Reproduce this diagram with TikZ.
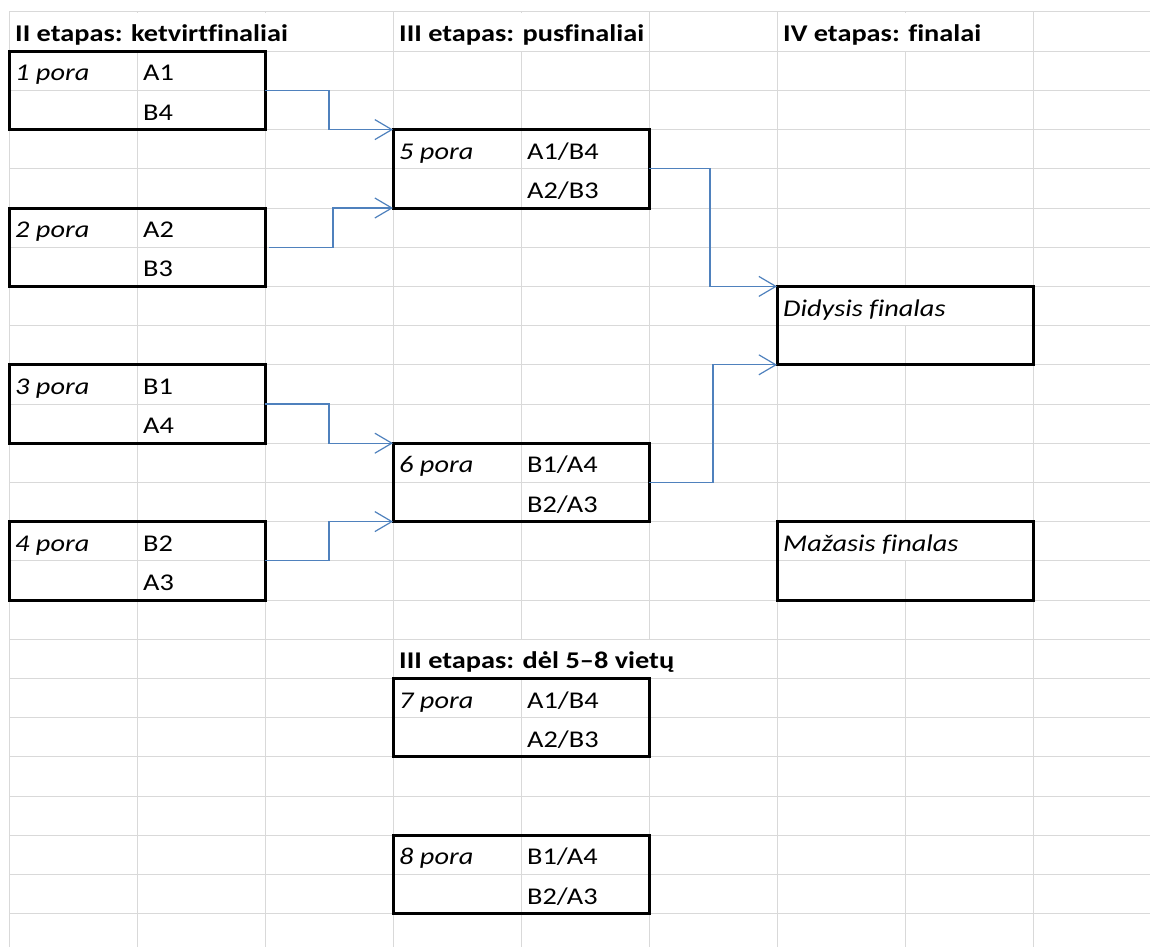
\documentclass[tikz,border=0pt]{standalone}
\usepackage{fontspec}
\setmainfont{Carlito}[FakeStretch=1.18,Ligatures=NoCommon]
\usepackage{tikz}
\usetikzlibrary{arrows.meta}
\definecolor{gridgrey}{RGB}{217,217,217}
\definecolor{connblue}{RGB}{79,129,189}
\newcommand{\cellfont}{\fontsize{24}{28}\selectfont}

\begin{document}
\begin{tikzpicture}[x=1pt,y=-1pt,
  cell/.style={anchor=base west,inner sep=0pt,font=\cellfont},
  pora/.style={cell,font=\cellfont\itshape},
  head/.style={cell,font=\cellfont\bfseries},
  pairbox/.style={draw,line width=3pt,minimum width=256pt,minimum height=78.4pt,
    anchor=north west,outer sep=0pt,inner sep=0pt},
  cover/.style={fill=white},
  conn/.style={draw=connblue,line width=1.2pt,
    -{Straight Barb[length=17pt,width=20pt,line width=1.2pt]}}]
\useasboundingbox (0,0) rectangle (1150,947);
\clip (0,0) rectangle (1150,947);
% spreadsheet grid
\foreach \i in {0,...,8}
  \draw[gridgrey,line width=1pt] ({9+128*\i},12) -- ({9+128*\i},947);
\foreach \j in {0,...,23}
  \draw[gridgrey,line width=1pt] (9,{12+39.2*\j}) -- (1150,{12+39.2*\j});
% overflowing text hides the grid lines
\fill[cover] (10,12.6) rectangle (392,50.6);
\fill[cover] (394,12.6) rectangle (648,50.6);
\fill[cover] (778,12.6) rectangle (1032,50.6);
\fill[cover] (778,287) rectangle (1032,325);
\fill[cover] (778,522.2) rectangle (1032,560.2);
\fill[cover] (394,639.8) rectangle (776,677.8);
% boxes
\node[pairbox] (p1) at (9,51.2) {};
\node[pairbox] (p2) at (9,208) {};
\node[pairbox] (p3) at (9,364.8) {};
\node[pairbox] (p4) at (9,521.6) {};
\node[pairbox] (p5) at (393,129.6) {};
\node[pairbox] (p6) at (393,443.2) {};
\node[pairbox] (fin) at (777,286.4) {};
\node[pairbox] (mfin) at (777,521.6) {};
\node[pairbox] (p7) at (393,678.4) {};
\node[pairbox] (p8) at (393,835.2) {};
% headings
\node[head] (h1) at (15,41.7) {II etapas: ketvirtfinaliai};
\node[head] (h2) at (399,41.7) {III etapas: pusfinaliai};
\node[head] (h3) at (783,41.7) {IV etapas: finalai};
\node[head] (h4) at (399,668.9) {III etapas: dėl 5–8 vietų};
% pairs
\node[pora] (p1-t) at (15,80.9) {1 pora};
\node[cell] (p1-1) at (143,80.9) {A1};
\node[cell] (p1-2) at (143,120.1) {B4};
\node[pora] (p2-t) at (15,237.7) {2 pora};
\node[cell] (p2-1) at (143,237.7) {A2};
\node[cell] (p2-2) at (143,276.9) {B3};
\node[pora] (p3-t) at (15,394.5) {3 pora};
\node[cell] (p3-1) at (143,394.5) {B1};
\node[cell] (p3-2) at (143,433.7) {A4};
\node[pora] (p4-t) at (15,551.3) {4 pora};
\node[cell] (p4-1) at (143,551.3) {B2};
\node[cell] (p4-2) at (143,590.5) {A3};
\node[pora] (p5-t) at (399,159.3) {5 pora};
\node[cell] (p5-1) at (527,159.3) {A1/B4};
\node[cell] (p5-2) at (527,198.5) {A2/B3};
\node[pora] (p6-t) at (399,472.9) {6 pora};
\node[cell] (p6-1) at (527,472.9) {B1/A4};
\node[cell] (p6-2) at (527,512.1) {B2/A3};
\node[pora] (fin-t) at (783,316.1) {Didysis finalas};
\node[pora] (mfin-t) at (783,551.3) {Mažasis finalas};
\node[pora] (p7-t) at (399,708.1) {7 pora};
\node[cell] (p7-1) at (527,708.1) {A1/B4};
\node[cell] (p7-2) at (527,747.3) {A2/B3};
\node[pora] (p8-t) at (399,864.9) {8 pora};
\node[cell] (p8-1) at (527,864.9) {B1/A4};
\node[cell] (p8-2) at (527,904.1) {B2/A3};
% connectors
\draw[conn] (p1.east) -- ++(64,0) |- (p5.north west);
\draw[conn] ([xshift=4pt]p2.east) -- ++(64,0) |- (p5.south west);
\draw[conn] (p3.east) -- ++(64,0) |- (p6.north west);
\draw[conn] (p4.east) -- ++(64,0) |- (p6.south west);
\draw[conn] (p5.east) -- ++(61,0) |- (fin.north west);
\draw[conn] (p6.east) -- ++(64,0) |- (fin.south west);
\end{tikzpicture}
\end{document}
